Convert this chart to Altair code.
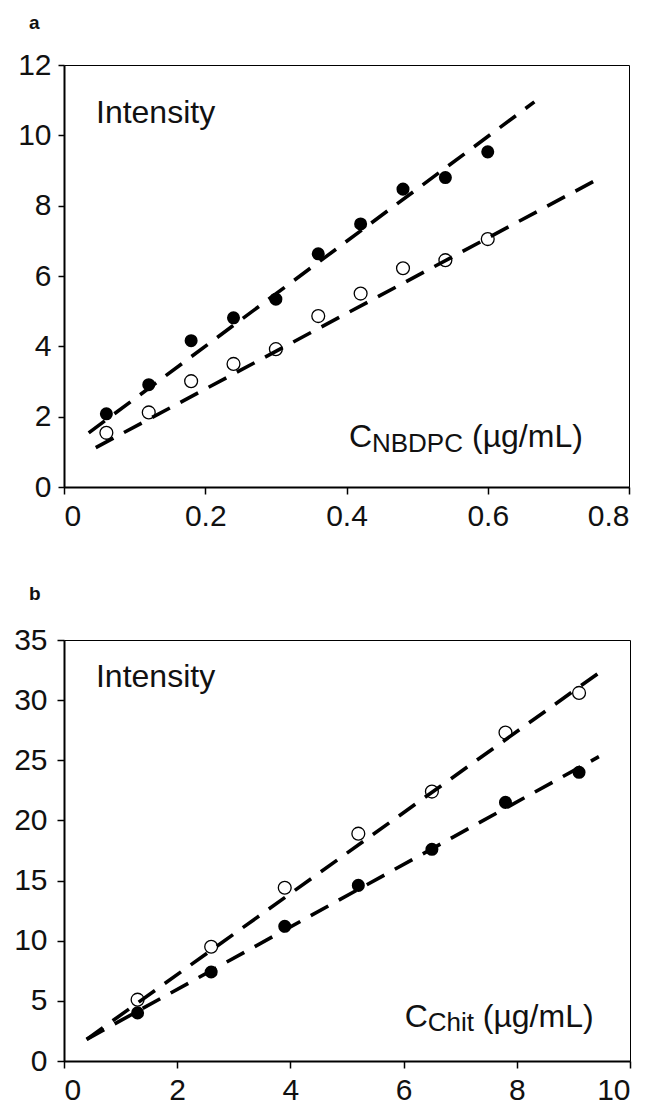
import altair as alt
import pandas as pd

FONT = "Liberation Sans"

# ---------------- Panel a ----------------
a_x = [0.06, 0.12, 0.18, 0.24, 0.30, 0.36, 0.42, 0.48, 0.54, 0.60]
a_filled = [2.08, 2.91, 4.16, 4.81, 5.34, 6.63, 7.48, 8.47, 8.80, 9.53]
a_open = [1.54, 2.12, 3.01, 3.50, 3.92, 4.86, 5.50, 6.22, 6.45, 7.05]
a_fit_filled_x = [0.035, 0.666]
a_fit_filled_y = [1.54, 10.95]
a_fit_open_x = [0.045, 0.76]
a_fit_open_y = [1.12, 8.80]
a_xticks = [0, 0.2, 0.4, 0.6, 0.8]
a_yticks = [0, 2, 4, 6, 8, 10, 12]
a_intensity_pos = [0.0453, 10.35]
a_unit_pos = [0.4035, 1.14]
a_sub = "NBDPC"

# ---------------- Panel b ----------------
b_x = [1.3, 2.6, 3.9, 5.2, 6.5, 7.8, 9.1]
b_open = [5.1, 9.5, 14.4, 18.9, 22.4, 27.3, 30.6]
b_filled = [4.0, 7.4, 11.2, 14.6, 17.6, 21.5, 24.0]
b_fit_open_x = [0.4, 9.49]
b_fit_open_y = [1.8, 32.4]
b_fit_filled_x = [0.4, 9.45]
b_fit_filled_y = [1.8, 25.3]
b_xticks = [0, 2, 4, 6, 8, 10]
b_yticks = [0, 5, 10, 15, 20, 25, 30, 35]
b_intensity_pos = [0.565, 31.09]
b_unit_pos = [6.02, 2.85]
b_sub = "Chit"


def panel(letter, xs, filled, opened, ffx, ffy, fox, foy, xticks, yticks,
          ipos, upos, sub, sub_dx, unit_dx, sub_dy, width, height,
          ytick_size, ylabel_pad, yextent, title_offset, title_dx):
    xdom = [xticks[0], xticks[-1]]
    ydom = [yticks[0], yticks[-1]]
    xenc = alt.X("x:Q", scale=alt.Scale(domain=xdom, nice=False, zero=False),
                 axis=alt.Axis(values=xticks, format=".1~f", title=None,
                               tickSize=7, labelPadding=7, grid=False))
    yenc = alt.Y("y:Q", scale=alt.Scale(domain=ydom, nice=False, zero=False),
                 axis=alt.Axis(values=yticks, format="d", title=None,
                               tickSize=ytick_size, labelPadding=ylabel_pad,
                               grid=False, minExtent=yextent, maxExtent=yextent))

    pts_f = pd.DataFrame({"x": xs, "y": filled})
    pts_o = pd.DataFrame({"x": xs, "y": opened})
    ln_f = pd.DataFrame({"x": ffx, "y": ffy})
    ln_o = pd.DataFrame({"x": fox, "y": foy})

    filled_layer = alt.Chart(pts_f).mark_circle(
        color="black", opacity=1, size=170).encode(x=xenc, y=yenc)
    open_layer = alt.Chart(pts_o).mark_point(
        shape="circle", filled=True, fill="white", stroke="black",
        strokeWidth=1.3, opacity=1, size=165).encode(x=xenc, y=yenc)
    dash = dict(color="black", strokeWidth=3.6, strokeDash=[20, 12], strokeCap="butt")
    line_f = alt.Chart(ln_f).mark_line(**dash).encode(x=xenc, y=yenc)
    line_o = alt.Chart(ln_o).mark_line(**dash).encode(x=xenc, y=yenc)

    t_int = alt.Chart(pd.DataFrame({"x": [ipos[0]], "y": [ipos[1]], "t": ["Intensity"]})).mark_text(
        font=FONT, fontSize=32, align="left", baseline="alphabetic", color="#111"
    ).encode(x=xenc, y=yenc, text="t:N")
    ud = pd.DataFrame({"x": [upos[0]], "y": [upos[1]], "c": ["C"], "s": [sub], "u": ["(µg/mL)"]})
    t_c = alt.Chart(ud).mark_text(font=FONT, fontSize=32, align="left", baseline="alphabetic",
                                  color="#111").encode(x=xenc, y=yenc, text="c:N")
    t_s = alt.Chart(ud).mark_text(font=FONT, fontSize=26, align="left", baseline="alphabetic",
                                  dx=sub_dx, dy=sub_dy, color="#111").encode(x=xenc, y=yenc, text="s:N")
    t_u = alt.Chart(ud).mark_text(font=FONT, fontSize=32, align="left", baseline="alphabetic",
                                  dx=unit_dx, color="#111").encode(x=xenc, y=yenc, text="u:N")

    return alt.layer(filled_layer, open_layer, line_f, line_o, t_int, t_c, t_s, t_u).properties(
        width=width, height=height,
        title=alt.TitleParams(text=letter, anchor="start", frame="group", dx=title_dx,
                              offset=title_offset, fontSize=19, fontWeight="bold",
                              font=FONT, baseline="alphabetic", color="#111"))


pa = panel("a", a_x, a_filled, a_open, a_fit_filled_x, a_fit_filled_y,
           a_fit_open_x, a_fit_open_y, a_xticks, a_yticks, a_intensity_pos,
           a_unit_pos, a_sub, 23, 123, 5, 565, 422, 6, 7, 50, 2, -35)
pb = panel("b", b_x, b_filled, b_open, b_fit_filled_x, b_fit_filled_y,
           b_fit_open_x, b_fit_open_y, b_xticks, b_yticks, b_intensity_pos,
           b_unit_pos, b_sub, 23, 78, 4, 566, 421, 7, 10, 50, 6, -35)

chart = alt.vconcat(pa, pb, spacing=52).configure_view(
    stroke="black", strokeWidth=1
).configure_axis(
    domainColor="black", domainWidth=2, tickColor="black", tickWidth=1.5,
    labelFont=FONT, labelFontSize=30, labelColor="#111"
)

chart.save("out.html", embed_options={"renderer": "svg", "actions": False})
